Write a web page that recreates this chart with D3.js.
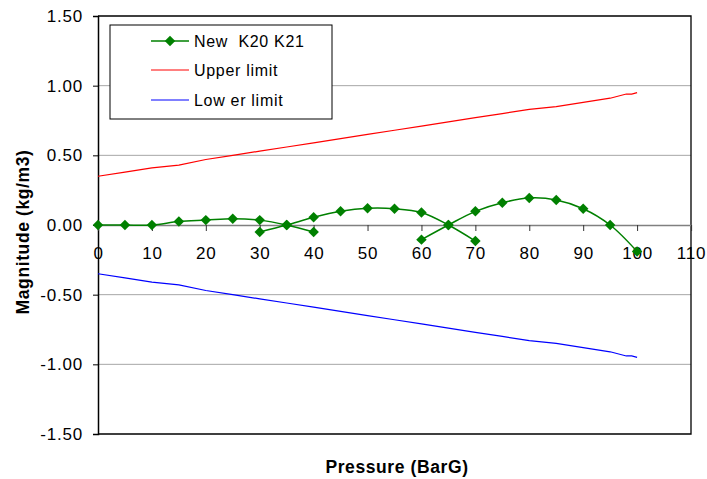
<!DOCTYPE html>
<html>
<head>
<meta charset="utf-8">
<script src="https://cdn.jsdelivr.net/npm/d3@7/dist/d3.min.js"></script>
<style>
  html, body { margin: 0; padding: 0; background: #fff; }
  svg { display: block; font-family: "Liberation Sans", Arial, sans-serif; }
</style>
</head>
<body>
<svg id="chart" width="707" height="479"></svg>
<script>
// Pressure steps (BarG) and measured magnitude, in three overlapping runs
const runA_x = [0, 5, 10, 15, 20, 25, 30, 35, 40];
const runA_y = [0, 0, 0, 0.025, 0.035, 0.045, 0.035, 0, -0.05];
const runB_x = [30, 35, 40, 45, 50, 55, 60, 65, 70];
const runB_y = [-0.05, 0, 0.055, 0.098, 0.12, 0.117, 0.09, 0, -0.115];
const runC_x = [60, 65, 70, 75, 80, 85, 90, 95, 100];
const runC_y = [-0.105, 0, 0.098, 0.16, 0.194, 0.18, 0.117, 0, -0.19];

// Tolerance band
const limitX = [0, 5, 10, 15, 20, 25, 30, 35, 40, 45, 50, 55, 60, 65, 70, 75, 80, 85, 90, 95, 98, 99, 100];
const upperLimit = [0.35, 0.38, 0.41, 0.43, 0.47, 0.50, 0.53, 0.56, 0.59, 0.62, 0.65, 0.68, 0.71, 0.74, 0.77, 0.80, 0.83, 0.85, 0.88, 0.91, 0.94, 0.94, 0.95];
const lowerLimit = [-0.35, -0.38, -0.41, -0.43, -0.47, -0.50, -0.53, -0.56, -0.59, -0.62, -0.65, -0.68, -0.71, -0.74, -0.77, -0.80, -0.83, -0.85, -0.88, -0.91, -0.94, -0.94, -0.95];

const xTicks = [0, 10, 20, 30, 40, 50, 60, 70, 80, 90, 100, 110];
const yTicks = [-1.5, -1.0, -0.5, 0, 0.5, 1.0, 1.5];
const gridValues = [-1.0, -0.5, 0.5, 1.0];

const seriesNames = ["New  K20 K21", "Upper limit", "Low er limit"];
const colors = { meas: "#008000", upper: "#ff0000", lower: "#0000ff" };

const svg = d3.select("#chart");
const plot = { left: 98, right: 691, top: 16, bottom: 434 };

const x = d3.scaleLinear().domain([0, 110]).range([plot.left, plot.right]);
const y = d3.scaleLinear().domain([-1.5, 1.5]).range([plot.bottom, plot.top]);

// grid lines
svg.append("g").selectAll("line").data(gridValues).join("line")
  .attr("x1", plot.left).attr("x2", plot.right)
  .attr("y1", d => y(d)).attr("y2", d => y(d))
  .attr("stroke", "#a6a6a6").attr("stroke-width", 1);

// frame (top, right, bottom)
svg.append("path")
  .attr("d", `M${plot.left},${plot.top}H${plot.right}V${plot.bottom}H${plot.left}`)
  .attr("fill", "none").attr("stroke", "#000").attr("stroke-width", 1.3);

// y axis on the left, plain hyphen for negatives
const fmtY = d => d.toFixed(2);
const yAxis = d3.axisLeft(y).tickValues(yTicks).tickSize(5).tickFormat(fmtY);
const gy = svg.append("g").attr("transform", `translate(${plot.left},0)`).call(yAxis);
gy.select(".domain").attr("stroke", "#000").attr("stroke-width", 1.5);
gy.selectAll(".tick line").attr("stroke", "#000");
gy.selectAll("text").attr("font-size", 17).attr("fill", "#000").attr("x", -15)
  .attr("letter-spacing", 0.8)
  .attr("font-family", "Liberation Sans, Arial, sans-serif");

// x axis along zero
const xAxis = d3.axisBottom(x).tickValues(xTicks).tickSize(6).tickFormat(d => String(d));
const gx = svg.append("g").attr("transform", `translate(0,${y(0)})`).call(xAxis);
gx.select(".domain").attr("stroke", "#808080").attr("stroke-width", 1.3);
gx.selectAll(".tick line").attr("stroke", "#333");
gx.selectAll("text").attr("font-size", 17).attr("fill", "#000").attr("y", 22)
  .attr("letter-spacing", 0.8)
  .attr("font-family", "Liberation Sans, Arial, sans-serif");

// limit lines
const lineStraight = d3.line().x(d => x(d[0])).y(d => y(d[1]));
svg.append("path").datum(limitX.map((v, i) => [v, upperLimit[i]]))
  .attr("d", lineStraight).attr("fill", "none").attr("stroke", colors.upper).attr("stroke-width", 1.2);
svg.append("path").datum(limitX.map((v, i) => [v, lowerLimit[i]]))
  .attr("d", lineStraight).attr("fill", "none").attr("stroke", colors.lower).attr("stroke-width", 1.2);

// measured runs, smoothed
const smooth = d3.line().x(d => x(d[0])).y(d => y(d[1])).curve(d3.curveCatmullRom.alpha(0.5));
const runs = [[runA_x, runA_y], [runB_x, runB_y], [runC_x, runC_y]]
  .map(([xs, ys]) => xs.map((v, i) => [v, ys[i]]));
const gm = svg.append("g");
runs.forEach(r => {
  gm.append("path").datum(r).attr("d", smooth)
    .attr("fill", "none").attr("stroke", colors.meas).attr("stroke-width", 1.5);
});
const diamond = d3.symbol().type(d3.symbolDiamond2).size(70);
runs.forEach(r => {
  gm.selectAll(null).data(r).join("path")
    .attr("d", diamond)
    .attr("transform", d => `translate(${x(d[0])},${y(d[1])})`)
    .attr("fill", colors.meas);
});

// legend
const lg = svg.append("g");
lg.append("rect").attr("x", 110).attr("y", 25).attr("width", 222).attr("height", 94)
  .attr("fill", "#fff").attr("stroke", "#000").attr("stroke-width", 1);
const legendItems = [
  { name: seriesNames[0], color: colors.meas, marker: true, yy: 41 },
  { name: seriesNames[1], color: colors.upper, marker: false, yy: 70 },
  { name: seriesNames[2], color: colors.lower, marker: false, yy: 100 }
];
legendItems.forEach(it => {
  lg.append("line").attr("x1", 151).attr("x2", 189).attr("y1", it.yy).attr("y2", it.yy)
    .attr("stroke", it.color).attr("stroke-width", it.marker ? 1.5 : 1);
  if (it.marker) {
    lg.append("path").attr("d", diamond).attr("transform", `translate(170,${it.yy})`).attr("fill", it.color);
  }
  lg.append("text").attr("x", 194).attr("y", it.yy + 6).attr("font-size", 16).attr("fill", "#000")
    .attr("letter-spacing", 0.7)
    .attr("xml:space", "preserve").style("white-space", "pre").text(it.name);
});

// axis titles
svg.append("text").attr("x", 397).attr("y", 473).attr("text-anchor", "middle")
  .attr("font-size", 17.5).attr("font-weight", "bold").attr("letter-spacing", 0.6)
  .text("Pressure (BarG)");
svg.append("text").attr("transform", "translate(29,232) rotate(-90)").attr("text-anchor", "middle")
  .attr("font-size", 17.5).attr("font-weight", "bold").attr("letter-spacing", 0.6)
  .text("Magnitude (kg/m3)");
</script>
</body>
</html>
